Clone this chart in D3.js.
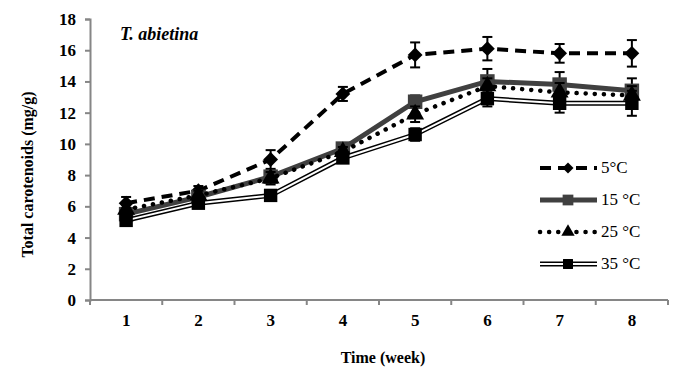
<!DOCTYPE html>
<html>
<head>
<meta charset="utf-8">
<script src="https://cdn.jsdelivr.net/npm/d3@7"></script>
<style>
  body { margin: 0; background: #fff; }
  svg { font-family: "Liberation Serif", "Times New Roman", serif; }
</style>
</head>
<body>
<script>
// Data
const weeks = ["1", "2", "3", "4", "5", "6", "7", "8"];
const seriesNames = ["5°C", "15 °C", "25 °C", "35 °C"];
const values5 = [6.2, 7.0, 9.0, 13.2, 15.7, 16.1, 15.8, 15.8];
const err5 = [0.4, 0.3, 0.6, 0.45, 0.8, 0.75, 0.6, 0.85];
const values15 = [5.5, 6.6, 7.9, 9.7, 12.7, 14.0, 13.8, 13.4];
const err15 = [0.3, 0.3, 0.4, 0.3, 0.4, 0.8, 0.8, 0.8];
const values25 = [5.8, 6.7, 7.8, 9.5, 11.9, 13.7, 13.3, 13.1];
const err25 = [0.3, 0.3, 0.4, 0.3, 0.5, 0.5, 0.6, 0.6];
const values35 = [5.1, 6.2, 6.7, 9.1, 10.6, 12.9, 12.6, 12.6];
const err35 = [0.3, 0.3, 0.3, 0.3, 0.4, 0.5, 0.6, 0.8];
const yTicks = [0, 2, 4, 6, 8, 10, 12, 14, 16, 18];

const w = 679, h = 376;
const margin = {left: 90, right: 11, top: 19, bottom: 76};

const svg = d3.select("body").append("svg")
  .attr("width", w)
  .attr("height", h);

const x = d3.scaleBand()
  .domain(weeks)
  .range([margin.left, w - margin.right]);

const y = d3.scaleLinear()
  .domain([0, 18])
  .range([h - margin.bottom, margin.top]);

const cx = d => x(d) + x.bandwidth() / 2;

// Axes
const yAxis = svg.append("g")
  .attr("transform", `translate(${margin.left},0)`)
  .call(d3.axisLeft(y).tickValues(yTicks).tickSize(5).tickPadding(9));
yAxis.select(".domain").attr("stroke", "#868686").attr("stroke-width", 2);
yAxis.selectAll(".tick line").attr("stroke", "#868686").attr("stroke-width", 2);
yAxis.selectAll("text")
  .attr("font-family", "Liberation Serif")
  .attr("font-size", 17)
  .attr("font-weight", "bold")
  .attr("fill", "#000");

const xAxisG = svg.append("g")
  .attr("transform", `translate(0,${h - margin.bottom})`);
xAxisG.append("line")
  .attr("x1", margin.left).attr("x2", w - margin.right)
  .attr("stroke", "#868686").attr("stroke-width", 2);
xAxisG.selectAll(".xtick")
  .data(weeks.concat(["end"]))
  .enter().append("line")
  .attr("x1", (d, i) => i < weeks.length ? x(d) : x.range()[1])
  .attr("x2", (d, i) => i < weeks.length ? x(d) : x.range()[1])
  .attr("y1", 0).attr("y2", 5)
  .attr("stroke", "#868686").attr("stroke-width", 2);
xAxisG.selectAll(".xlabel")
  .data(weeks)
  .enter().append("text")
  .attr("x", d => cx(d))
  .attr("y", 26)
  .attr("text-anchor", "middle")
  .attr("font-size", 17)
  .attr("font-weight", "bold")
  .text(d => d);

// Axis titles
svg.append("text")
  .attr("transform", `translate(33,${(margin.top + h - margin.bottom) / 2 + 15}) rotate(-90)`)
  .attr("text-anchor", "middle")
  .attr("font-size", 16)
  .attr("font-weight", "bold")
  .text("Total carotenoids (mg/g)");

svg.append("text")
  .attr("x", 383)
  .attr("y", 363)
  .attr("text-anchor", "middle")
  .attr("font-size", 16)
  .attr("font-weight", "bold")
  .text("Time (week)");

svg.append("text")
  .attr("x", 120)
  .attr("y", 40)
  .attr("font-size", 18)
  .attr("font-weight", "bold")
  .attr("font-style", "italic")
  .text("T. abietina");

// Series definitions
const series = [
  {name: seriesNames[0], values: values5, err: err5, marker: d3.symbolSquare, rot: 45, size: 110, fill: "#000",
   lines: [{stroke: "#000", width: 4, dash: "11,7", cap: "butt"}]},
  {name: seriesNames[1], values: values15, err: err15, marker: d3.symbolSquare, rot: 0, size: 210, fill: "#404040",
   lines: [{stroke: "#404040", width: 5, dash: null, cap: "butt"}]},
  {name: seriesNames[2], values: values25, err: err25, marker: d3.symbolTriangle, rot: 0, size: 140, fill: "#000",
   lines: [{stroke: "#000", width: 4.5, dash: "0.1,9", cap: "round"}]},
  {name: seriesNames[3], values: values35, err: err35, marker: d3.symbolSquare, rot: 0, size: 180, fill: "#000",
   lines: [{stroke: "#000", width: 5, dash: null, cap: "butt"}, {stroke: "#fff", width: 2, dash: null, cap: "butt"}]}
];

const line = d3.line()
  .x((d, i) => cx(weeks[i]))
  .y(d => y(d));

series.forEach(s => {
  const g = svg.append("g");
  // error bars
  const eb = g.selectAll(".err")
    .data(s.values)
    .enter().append("g");
  eb.append("line")
    .attr("x1", (d, i) => cx(weeks[i])).attr("x2", (d, i) => cx(weeks[i]))
    .attr("y1", (d, i) => y(d + s.err[i])).attr("y2", (d, i) => y(d - s.err[i]))
    .attr("stroke", "#000").attr("stroke-width", 2);
  [1, -1].forEach(sign => {
    eb.append("line")
      .attr("x1", (d, i) => cx(weeks[i]) - 5).attr("x2", (d, i) => cx(weeks[i]) + 5)
      .attr("y1", (d, i) => y(d + sign * s.err[i])).attr("y2", (d, i) => y(d + sign * s.err[i]))
      .attr("stroke", "#000").attr("stroke-width", 2);
  });
  // line
  s.lines.forEach(l => {
    g.append("path")
      .attr("d", line(s.values))
      .attr("fill", "none")
      .attr("stroke", l.stroke)
      .attr("stroke-width", l.width)
      .attr("stroke-dasharray", l.dash)
      .attr("stroke-linecap", l.cap);
  });
  // markers
  g.selectAll(".marker")
    .data(s.values)
    .enter().append("path")
    .attr("d", d3.symbol().type(s.marker).size(s.size))
    .attr("transform", (d, i) => `translate(${cx(weeks[i])},${y(d)}) rotate(${s.rot})`)
    .attr("fill", s.fill);
});

// Legend
const legend = svg.append("g").attr("transform", "translate(540,168)");
series.forEach((s, i) => {
  const lg = legend.append("g").attr("transform", `translate(0,${i * 32})`);
  s.lines.forEach(l => {
    lg.append("line")
      .attr("x1", 0).attr("x2", 57)
      .attr("stroke", l.stroke)
      .attr("stroke-width", l.width)
      .attr("stroke-dasharray", l.dash)
      .attr("stroke-linecap", l.cap);
  });
  lg.append("path")
    .attr("d", d3.symbol().type(s.marker).size(s.size * 0.55))
    .attr("transform", `translate(28,0) rotate(${s.rot})`)
    .attr("fill", s.fill);
  lg.append("text")
    .attr("x", 61)
    .attr("y", 5)
    .attr("font-size", 17)
    .text(s.name);
});
</script>
</body>
</html>
